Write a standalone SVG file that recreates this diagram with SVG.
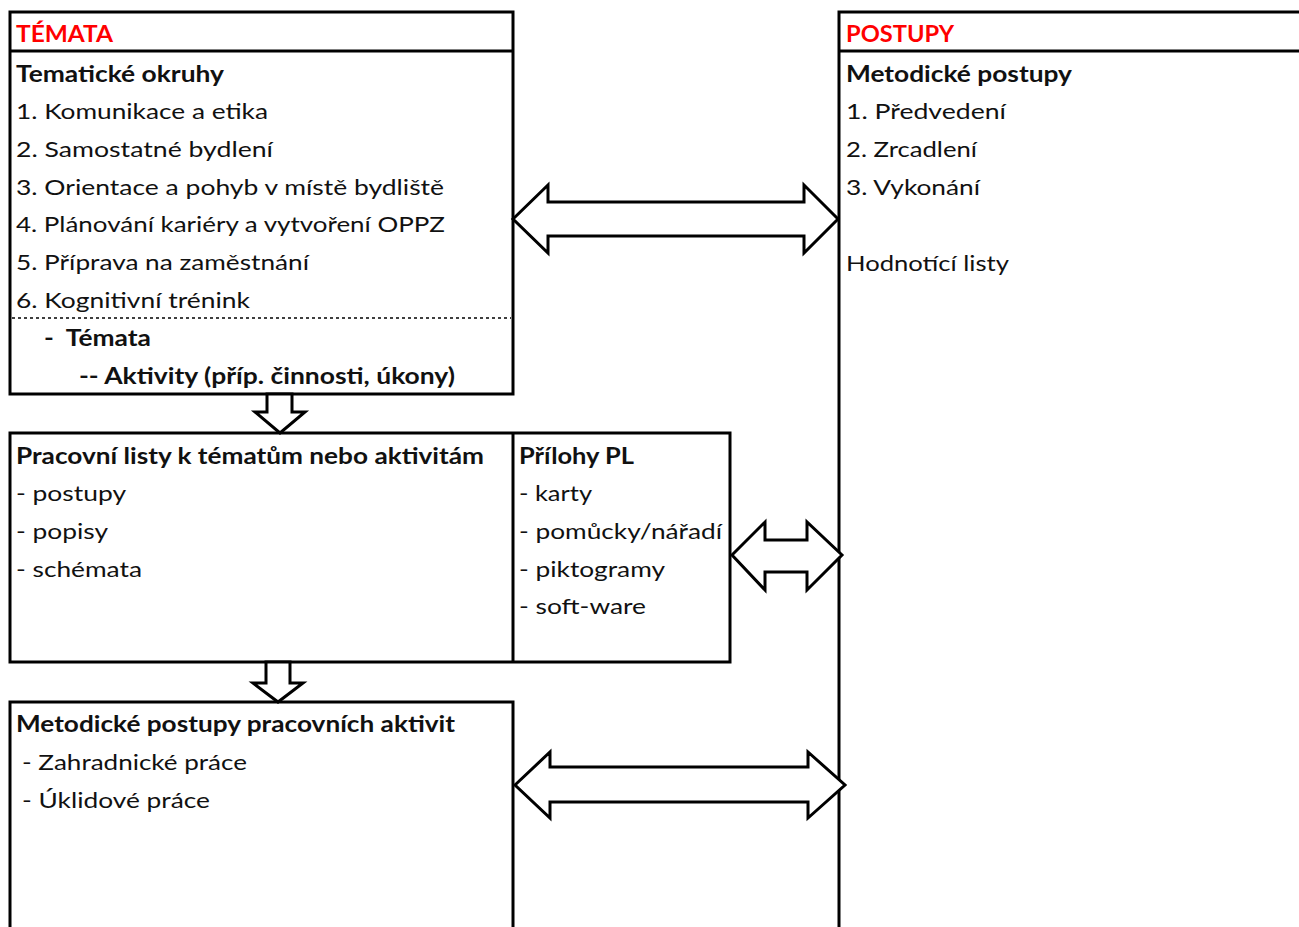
<svg xmlns="http://www.w3.org/2000/svg" width="1299" height="927" viewBox="0 0 1299 927">
<style>
.box{fill:#fff;stroke:#000;stroke-width:3}
.ln{stroke:#000;stroke-width:3;fill:none}
.arr{fill:#fff;stroke:#000;stroke-width:3;stroke-linejoin:miter}
text{font-family:Lato,"Liberation Sans",sans-serif;font-size:22px;fill:#111}
.b{font-weight:bold}
.red{fill:#ff0000;font-weight:bold}
</style>
<rect width="1299" height="927" fill="#fff"/>
<g id="temata">
<rect class="box" x="10" y="12" width="503" height="382"/>
<line class="ln" x1="10" y1="51" x2="513" y2="51"/>
<line x1="12" y1="318" x2="511" y2="318" stroke="#000" stroke-width="1.5" stroke-dasharray="3,3"/>
<text class="red" x="16" y="42" textLength="97" lengthAdjust="spacingAndGlyphs">TÉMATA</text>
<text class="b" x="16" y="82" textLength="208" lengthAdjust="spacingAndGlyphs">Tematické okruhy</text>
<text x="16" y="119" textLength="252" lengthAdjust="spacingAndGlyphs">1. Komunikace a etika</text>
<text x="16" y="157" textLength="257" lengthAdjust="spacingAndGlyphs">2. Samostatné bydlení</text>
<text x="16" y="195" textLength="428" lengthAdjust="spacingAndGlyphs">3. Orientace a pohyb v místě bydliště</text>
<text x="16" y="232" textLength="429" lengthAdjust="spacingAndGlyphs">4. Plánování kariéry a vytvoření OPPZ</text>
<text x="16" y="270" textLength="293" lengthAdjust="spacingAndGlyphs">5. Příprava na zaměstnání</text>
<text x="16" y="308" textLength="234" lengthAdjust="spacingAndGlyphs">6. Kognitivní trénink</text>
<text class="b" x="44" y="346" textLength="107" lengthAdjust="spacingAndGlyphs" xml:space="preserve">-  Témata</text>
<text class="b" x="79" y="384" textLength="376" lengthAdjust="spacingAndGlyphs">-- Aktivity (příp. činnosti, úkony)</text>
</g>
<g id="postupy">
<rect class="box" x="839" y="12" width="470" height="930"/>
<line class="ln" x1="839" y1="51" x2="1299" y2="51"/>
<text class="red" x="846" y="42" textLength="108" lengthAdjust="spacingAndGlyphs">POSTUPY</text>
<text class="b" x="846" y="82" textLength="226" lengthAdjust="spacingAndGlyphs">Metodické postupy</text>
<text x="846" y="119" textLength="160" lengthAdjust="spacingAndGlyphs">1. Předvedení</text>
<text x="846" y="157" textLength="131" lengthAdjust="spacingAndGlyphs">2. Zrcadlení</text>
<text x="846" y="195" textLength="134" lengthAdjust="spacingAndGlyphs">3. Vykonání</text>
<text x="846" y="271" textLength="163" lengthAdjust="spacingAndGlyphs">Hodnotící listy</text>
</g>
<g id="pracovni-listy">
<rect class="box" x="10" y="433" width="720" height="229"/>
<line class="ln" x1="513" y1="433" x2="513" y2="662"/>
<text class="b" x="16" y="464" textLength="468" lengthAdjust="spacingAndGlyphs">Pracovní listy k tématům nebo aktivitám</text>
<text x="16" y="501" textLength="110" lengthAdjust="spacingAndGlyphs">- postupy</text>
<text x="16" y="539" textLength="92" lengthAdjust="spacingAndGlyphs">- popisy</text>
<text x="16" y="577" textLength="126" lengthAdjust="spacingAndGlyphs">- schémata</text>
<text class="b" x="519" y="464" textLength="115" lengthAdjust="spacingAndGlyphs">Přílohy PL</text>
<text x="519" y="501" textLength="73" lengthAdjust="spacingAndGlyphs">- karty</text>
<text x="519" y="539" textLength="203" lengthAdjust="spacingAndGlyphs">- pomůcky/nářadí</text>
<text x="519" y="577" textLength="146" lengthAdjust="spacingAndGlyphs">- piktogramy</text>
<text x="519" y="614" textLength="127" lengthAdjust="spacingAndGlyphs">- soft-ware</text>
</g>
<g id="metodicke-postupy-pracovnich-aktivit">
<rect class="box" x="10" y="702" width="503" height="240"/>
<text class="b" x="16" y="732" textLength="439" lengthAdjust="spacingAndGlyphs">Metodické postupy pracovních aktivit</text>
<text x="22" y="770" textLength="225" lengthAdjust="spacingAndGlyphs">- Zahradnické práce</text>
<text x="22" y="808" textLength="188" lengthAdjust="spacingAndGlyphs">- Úklidové práce</text>
</g>
<g id="connectors">
<polygon class="arr" points="513,219 548,185 548,202 804,202 804,185 838,219 804,253 804,236 548,236 548,253"/>
<polygon class="arr" points="732,555 765,522 765,540 807,540 807,522 842,555 807,590 807,572 765,572 765,590"/>
<polygon class="arr" points="515,785 550,752 550,767 808,767 808,752 845,785 808,818 808,802 550,802 550,818"/>
<polygon class="arr" points="267,394 292,394 292,412 305,412 280,433 255,412 267,412"/>
<polygon class="arr" points="266,662 290,662 290,683 303,683 278,702 253,683 266,683"/>
</g>
</svg>
